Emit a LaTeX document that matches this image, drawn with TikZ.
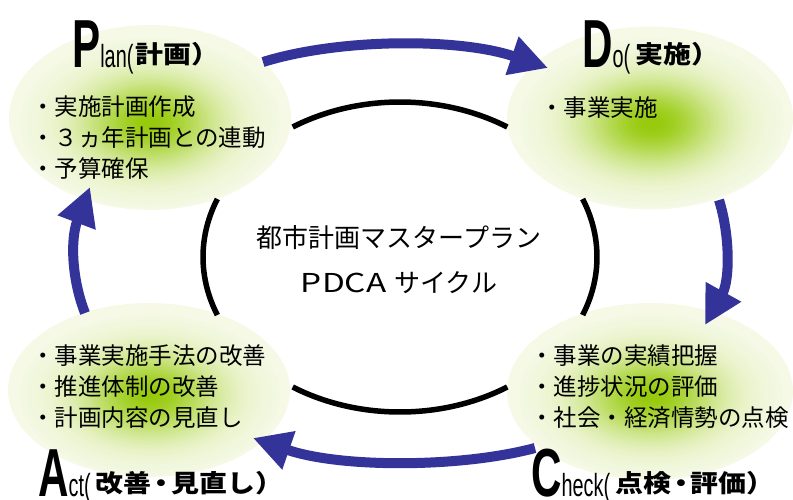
\documentclass[tikz,border=0pt]{standalone}
\usepackage{fontspec}
\usepackage{graphicx}
\setmainfont{Noto Sans CJK JP}
\newfontfamily\jpwide[FakeStretch=1.14]{Noto Sans CJK JP}
\newfontfamily\pdcafont[FakeStretch=1.28]{Noto Sans CJK JP}
\newfontfamily\condsans[FakeStretch=0.62]{Liberation Sans}
\usetikzlibrary{shapes.geometric,arrows.meta}
\definecolor{cgreen}{RGB}{150,202,10}
\definecolor{cpale}{RGB}{245,249,230}
\definecolor{arrowblue}{RGB}{51,51,153}
\newcommand\hdbig[1]{{\condsans\bfseries\fontsize{68}{68}\selectfont #1}}
\newcommand\hdsmall[1]{{\condsans\fontsize{32}{32}\selectfont #1}}
\newcommand\hdjp[1]{\raisebox{3.5pt}{\jpwide\bfseries\fontsize{24.5}{24.5}\selectfont #1}}
\newcommand\hddot{\hspace{-4pt}・\hspace{-4pt}}
% glow layers: cx, cy, rx, ry
\newcommand\leafglow[4]{%
  \foreach \i in {0,...,44} {%
    \pgfmathsetmacro\ff{0.92*(1-\i/45)}%
    \pgfmathtruncatemacro\gg{100*exp(-(\ff/0.48)^2)}%
    \fill[cgreen!\gg!cpale] (#1,#2) ellipse [x radius=\ff*#3 pt, y radius=\ff*#4 pt];
  }%
}
\tikzset{
  leafell/.style={ellipse, draw=none, fill=cpale, inner sep=0pt},
  bodytext/.style={anchor=west, inner sep=0pt, align=left, text=black,
    font=\fontsize{23.5}{31}\selectfont},
  centertext/.style={inner sep=0pt, align=center, text=black,
    font=\fontsize{26}{45}\selectfont},
  heading/.style={anchor=base west, inner sep=0pt, text=black},
  cyclearc/.style={line width=5.5pt, black},
  bluearrow/.style={line width=10pt, arrowblue, -{Triangle[length=38pt,width=38pt]}}
}
\begin{document}
\begin{tikzpicture}[x=1pt,y=-1pt]
\useasboundingbox (0,0) rectangle (793,499);
% ellipses
\node[leafell, minimum width=282pt, minimum height=185pt] (planE) at (150,117.5) {};
\node[leafell, minimum width=286pt, minimum height=183pt] (doE) at (650,118) {};
\node[leafell, minimum width=282pt, minimum height=174pt] (actE) at (149,390) {};
\node[leafell, minimum width=286pt, minimum height=177pt] (checkE) at (650,391.5) {};
\leafglow{150}{123}{141}{92.5}
\leafglow{652}{123}{143}{91.5}
\leafglow{150}{395}{141}{87}
\leafglow{651}{396}{143}{88.5}
% inner cycle arcs
\draw[cyclearc] plot[domain=57:123, samples=50] ({400+197*cos(\x)},{257-155*sin(\x)});
\draw[cyclearc] plot[domain=237:303, samples=50] ({400+197*cos(\x)},{257-155*sin(\x)});
\draw[cyclearc] plot[domain=158:202, samples=30] ({400+197*cos(\x)},{257-155*sin(\x)});
\draw[cyclearc] plot[domain=-22:22, samples=30] ({400+197*cos(\x)},{257-155*sin(\x)});
% center text
\node[centertext] (center) at (399,259.5) {都市計画マスタープラン\\{\pdcafont PDCA}\hspace{8pt}サイクル};
% arrows
\coordinate (a1s) at (263,62);
\coordinate (a1e) at (548,68);
\coordinate (a2s) at (719,200);
\coordinate (a2e) at (705,325);
\coordinate (a3s) at (535,448);
\coordinate (a3e) at (253,438);
\coordinate (a4s) at (85,313);
\coordinate (a4e) at (90,187);
\draw[bluearrow] (a1s) .. controls (340,38) and (460,38) .. (a1e);
\draw[bluearrow] (a2s) .. controls (730,235) and (730,280) .. (a2e);
\draw[bluearrow] (a3s) .. controls (460,468) and (340,468) .. (a3e);
\draw[bluearrow] (a4s) .. controls (72,280) and (70,240) .. (a4e);
% body texts
\node[bodytext] (plantxt) at (31,138) {・実施計画作成\\・３ヵ年計画との連動\\・予算確保};
\node[bodytext] (dotxt) at (540,108) {・事業実施};
\node[bodytext] (acttxt) at (31,387) {・事業実施手法の改善\\・推進体制の改善\\・計画内容の見直し};
\node[bodytext] (checktxt) at (530,387) {・事業の実績把握\\・進捗状況の評価\\・社会・経済情勢の点検};
% headings
\node[heading] (planh) at (72,67) {\hdbig{P}\hdsmall{lan(}\hspace{2pt}\hdjp{計画）}};
\node[heading] (doh) at (582,67) {\hdbig{D}\hdsmall{o(}\hspace{5pt}\hdjp{実施）}};
\node[heading] (acth) at (38,496) {\hdbig{A}\hdsmall{ct(}\hspace{5pt}\hdjp{改善\hddot 見直し）}};
\node[heading] (checkh) at (531,496) {\hdbig{C}\hdsmall{heck(}\hspace{5pt}\hdjp{点検\hddot 評価）}};
\end{tikzpicture}
\end{document}
